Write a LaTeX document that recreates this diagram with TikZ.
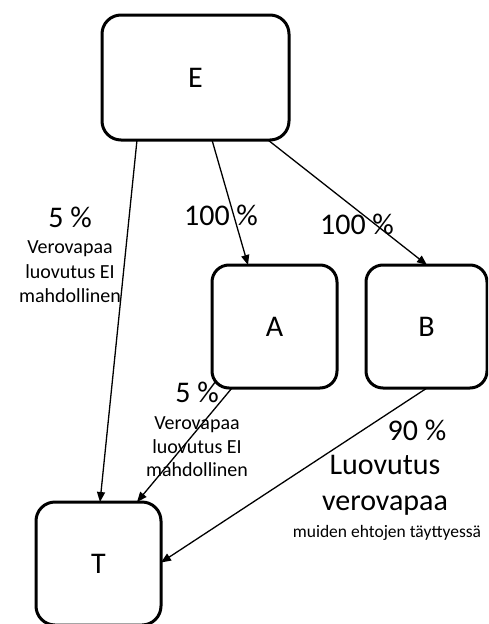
\documentclass[tikz,border=0pt]{standalone}
\usepackage{fontspec}
\setmainfont{Carlito}
\usetikzlibrary{arrows.meta,calc}
\begin{document}
\begin{tikzpicture}[x=1pt,y=-1pt,
  box/.style={draw=black, line width=3pt, rounded corners=19pt, outer sep=0pt, inner sep=0pt, font=\fontsize{30}{30}\selectfont},
  conn/.style={line width=1.3pt, -{Triangle[length=10pt,width=8pt]}},
  big/.style={font=\fontsize{30}{30}\selectfont, inner sep=0pt},
  small/.style={font=\fontsize{20}{24.5}\selectfont, align=center, inner sep=0pt},
  big2/.style={font=\fontsize{30}{36}\selectfont, align=center, inner sep=0pt},
  tiny/.style={font=\fontsize{17.5}{20}\selectfont, inner sep=0pt}]
\useasboundingbox (0,0) rectangle (488,624);
\begin{scope}
\clip (0,0) rectangle (488,624);
\node[box, minimum width=187pt, minimum height=125pt] (E) at (195.5,77.5) {E};
\node[box, minimum width=125pt, minimum height=123pt, rounded corners=17pt] (A) at (274.5,326.5) {A};
\node[box, minimum width=121pt, minimum height=123pt, rounded corners=17pt] (B) at (426.5,326.5) {B};
\node[box, minimum width=125pt, minimum height=123pt] (T) at (98.5,563.5) {T};
\end{scope}

\draw[conn] ($(E.south west)+(35,0)$) -- ($(T.north west)+(64,0)$);
\draw[conn] ($(E.south west)+(110,0)$) -- ($(A.north west)+(36,0)$);
\draw[conn] ($(E.south east)+(-21,0)$) -- ($(B.north west)+(61,0)$);
\draw[conn] ($(A.south west)+(20,0)$) -- ($(T.north west)+(101,0)$);
\draw[conn] ($(B.south west)+(61,0)$) -- ($(T.east)+(0,-1)$);

\node[big] (l1a) at (70,217) {5 \%};
\node[small] (l1b) at (70,272) {Verovapaa\\luovutus EI\\mahdollinen};
\node[big] (l2) at (221,215) {100 \%};
\node[big] (l3) at (357,224) {100 \%};
\node[big] (l4a) at (197,392) {5 \%};
\node[small, font=\fontsize{20}{23.5}\selectfont] (l4b) at (197,447) {Verovapaa\\luovutus EI\\mahdollinen};
\node[big] (l5a) at (417,430) {90 \%};
\node[big2] (l5b) at (385,485) {Luovutus\\verovapaa};
\node[tiny] (l5c) at (387,533) {muiden ehtojen täyttyessä};
\end{tikzpicture}
\end{document}
